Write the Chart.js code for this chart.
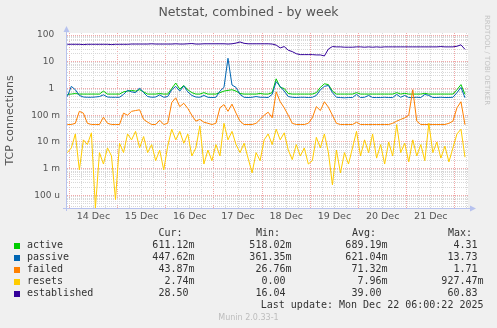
<!DOCTYPE html>
<html>
<head>
<meta charset="utf-8">
<title>Netstat, combined - by week</title>
<script src="https://cdn.jsdelivr.net/npm/chart.js@4.4.1/dist/chart.umd.min.js"></script>
<style>
    html, body { margin: 0; padding: 0; background: #f0f0f0; }
    canvas { display: block; }
</style>
</head>
<body>
<canvas id="netstatChart" width="497" height="328"></canvas>
<script>
        // Samples every 2 hours, hours counted from 14 Dec 00:00
        const sampleStart = -1;
        const sampleStep = 2;

        const dayLabels = ['14 Dec', '15 Dec', '16 Dec', '17 Dec', '18 Dec', '19 Dec', '20 Dec', '21 Dec'];

        const decadeValues = [100, 10, 1, 0.1, 0.01, 0.001, 0.0001];
        const decadeLabels = ['100  ', '10  ', '1  ', '100 m', '10 m', '1 m', '100 u'];

        const active = [
            0.6,
            0.62, 0.65, 0.62, 0.62, 0.62, 0.62, 0.62, 0.62, 0.8, 0.62, 0.62, 0.62,
            0.62, 0.75, 0.8, 0.85, 0.8, 0.9, 0.75, 0.62, 0.62, 0.62, 0.65, 0.62,
            0.62, 1.0, 1.6, 0.95, 1.3, 0.9, 0.7, 0.62, 0.62, 0.7, 0.62, 0.62,
            0.62, 0.7, 0.8, 0.85, 0.9, 0.8, 0.65, 0.62, 0.62, 0.62, 0.62, 0.65,
            0.62, 0.62, 0.7, 2.3, 1.1, 1.0, 0.65, 0.62, 0.62, 0.62, 0.62, 0.62,
            0.62, 0.7, 1.1, 1.5, 1.4, 0.8, 0.62, 0.62, 0.62, 0.62, 0.62, 0.7,
            0.62, 0.62, 0.62, 0.62, 0.62, 0.62, 0.62, 0.62, 0.62, 0.7, 0.62, 0.66,
            0.62, 0.62, 0.62, 0.62, 0.66, 0.62, 0.62, 0.62, 0.62, 0.62, 0.62, 0.62,
            0.9, 1.4, 0.61
        ];
        const passive = [
            0.5,
            1.2, 0.9, 0.55, 0.48, 0.47, 0.47, 0.48, 0.5, 0.58, 0.48, 0.47, 0.47,
            0.47, 0.6, 0.85, 0.75, 0.7, 1.05, 0.7, 0.5, 0.47, 0.48, 0.58, 0.47,
            0.5, 0.9, 1.2, 0.8, 1.25, 0.75, 0.55, 0.48, 0.47, 0.55, 0.47, 0.46,
            0.47, 0.8, 1.1, 13.5, 1.35, 1.1, 0.6, 0.47, 0.46, 0.47, 0.5, 0.47,
            0.47, 0.46, 0.6, 1.8, 1.2, 0.8, 0.5, 0.47, 0.46, 0.47, 0.47, 0.46,
            0.47, 0.55, 0.9, 1.2, 1.3, 0.7, 0.47, 0.46, 0.45, 0.46, 0.46, 0.6,
            0.46, 0.47, 0.55, 0.46, 0.46, 0.46, 0.47, 0.46, 0.46, 0.6, 0.47, 0.55,
            0.46, 0.46, 0.47, 0.46, 0.6, 0.55, 0.46, 0.46, 0.47, 0.46, 0.46, 0.47,
            0.7, 1.1, 0.45
        ];
        const failed = [
            0.045,
            0.045, 0.05, 0.14, 0.12, 0.05, 0.045, 0.045, 0.045, 0.085, 0.05, 0.045, 0.045,
            0.045, 0.12, 0.1, 0.14, 0.15, 0.16, 0.07, 0.055, 0.045, 0.045, 0.065, 0.045,
            0.05, 0.3, 0.45, 0.21, 0.28, 0.18, 0.1, 0.06, 0.07, 0.055, 0.05, 0.045,
            0.05, 0.19, 0.25, 0.14, 0.26, 0.12, 0.06, 0.045, 0.045, 0.045, 0.05, 0.07,
            0.1, 0.13, 0.08, 0.75, 0.32, 0.19, 0.1, 0.05, 0.045, 0.045, 0.045, 0.05,
            0.08, 0.21, 0.15, 0.32, 0.2, 0.1, 0.05, 0.045, 0.045, 0.045, 0.045, 0.055,
            0.045, 0.045, 0.045, 0.045, 0.045, 0.045, 0.045, 0.045, 0.05, 0.06, 0.07, 0.08,
            0.1, 0.9, 0.06, 0.045, 0.045, 0.045, 0.045, 0.045, 0.045, 0.045, 0.05, 0.06,
            0.19, 0.32, 0.044
        ];
        const resets = [
            0.004,
            0.006, 0.02, 0.0009, 0.012, 0.008, 0.022, 0, 0.004, 0.0015, 0.006, 0.003, 0.00007,
            0.009, 0.004, 0.02, 0.012, 0.025, 0.006, 0.016, 0.004, 0.008, 0.002, 0.005, 0.0009,
            0.007, 0.03, 0.012, 0.025, 0.009, 0.02, 0.003, 0.006, 0.04, 0.0015, 0.005, 0.002,
            0.008, 0.003, 0.05, 0.012, 0.025, 0.008, 0.004, 0.009, 0.0025, 0.0007, 0.004, 0.002,
            0.012, 0.02, 0.008, 0.03, 0.012, 0.022, 0.005, 0.0022, 0.008, 0.003, 0.006, 0.0015,
            0.002, 0.015, 0.006, 0.02, 0.004, 0.00025, 0.005, 0.0007, 0.004, 0.0015, 0.006, 0.025,
            0.003, 0.012, 0.004, 0.02, 0.0025, 0.008, 0.0015, 0.01, 0.003, 0.045, 0.004, 0.009,
            0.0018, 0.012, 0.003, 0.008, 0.002, 0.05, 0.004, 0.01, 0.0025, 0.007, 0.0018, 0.006,
            0.02, 0.03, 0.0027
        ];
        const established = [
            45,
            45, 45, 45, 44, 45, 45, 45, 45, 45, 45, 44, 45,
            45, 45, 45, 46, 46, 46, 46, 46, 47, 46, 46, 46,
            46, 46, 47, 46, 46, 47, 48, 46, 46, 47, 47, 47,
            47, 47, 47, 46, 47, 50, 55, 49, 47, 47, 47, 47,
            47, 47, 46, 42, 33, 37, 27, 24, 20, 18.5, 18.5, 18.5,
            18.5, 18, 18, 16.5, 30, 37, 36, 36, 35, 35, 35, 36,
            36, 35, 36, 35, 36, 35, 36, 36, 36, 36, 36, 36,
            36, 36, 36, 36, 36, 36, 36, 36, 37, 36, 36, 36,
            38, 43, 29
        ];

        // Legend table (Cur / Min / Avg / Max)
        const seriesNames = ['active', 'passive', 'failed', 'resets', 'established'];
        const seriesColors = ['#00cc00', '#0066b3', '#ff8000', '#ffcc00', '#330099'];
        const curValues = ['611.12m', '447.62m', '43.87m', '2.74m', '28.50'];
        const minValues = ['518.02m', '361.35m', '26.76m', '0.00', '16.04'];
        const avgValues = ['689.19m', '621.04m', '71.32m', '7.96m', '39.00'];
        const maxValues = ['4.31', '13.73', '1.71', '927.47m', '60.83'];

        const yMin = 3.4e-5;
        const yMax = 119;
        const minorGrid = '#d8d8d8';
        const majorGrid = '#f2a8a8';
        const axisColor = '#b7c2ee';

        // zero can't sit on a log axis, so it goes to the floor of the plot
        function toPoints(values) {
            return values.map((v, i) => ({ x: sampleStart + i * sampleStep, y: v > 0 ? v : yMin }));
        }

        function decadeIndex(value) {
            return decadeValues.findIndex(d => Math.abs(d - value) / d < 1e-6);
        }

        // white plot area, axes with arrows, title and legend table
        const muninFrame = {
            id: 'muninFrame',
            beforeDraw(chart) {
                const { ctx, chartArea: a } = chart;
                ctx.save();
                ctx.fillStyle = '#ffffff';
                ctx.fillRect(a.left, a.top, a.right - a.left, a.bottom - a.top);
                ctx.restore();
            },
            afterDraw(chart) {
                const { ctx, chartArea: a } = chart;
                ctx.save();

                // axes
                ctx.strokeStyle = axisColor;
                ctx.fillStyle = axisColor;
                ctx.lineWidth = 1;
                ctx.beginPath();
                ctx.moveTo(a.left - 0.5, a.bottom + 3);
                ctx.lineTo(a.left - 0.5, a.top - 2);
                ctx.moveTo(a.left - 4, a.bottom + 0.5);
                ctx.lineTo(a.right + 3, a.bottom + 0.5);
                ctx.stroke();
                ctx.beginPath();
                ctx.moveTo(a.left - 0.5, a.top - 7);
                ctx.lineTo(a.left - 3.5, a.top - 1);
                ctx.lineTo(a.left + 2.5, a.top - 1);
                ctx.closePath();
                ctx.fill();
                ctx.beginPath();
                ctx.moveTo(a.right + 8, a.bottom + 0.5);
                ctx.lineTo(a.right + 2, a.bottom - 2.5);
                ctx.lineTo(a.right + 2, a.bottom + 3.5);
                ctx.closePath();
                ctx.fill();

                // title
                ctx.fillStyle = '#555555';
                ctx.font = '12.5px "DejaVu Sans"';
                ctx.textAlign = 'center';
                ctx.textBaseline = 'middle';
                ctx.fillText('Netstat, combined - by week', 248.5, 13);

                // vertical tool credit
                ctx.save();
                ctx.translate(487, 15);
                ctx.rotate(Math.PI / 2);
                ctx.fillStyle = '#c4c4c4';
                ctx.font = '7px "DejaVu Sans"';
                ctx.textAlign = 'left';
                ctx.fillText('RRDTOOL / TOBI OETIKER', 0, 0);
                ctx.restore();

                // legend table
                ctx.font = '10px "DejaVu Sans Mono"';
                ctx.fillStyle = '#333333';
                ctx.textAlign = 'left';
                const headerY = 233.5;
                ctx.fillText('Cur:', 158.5, headerY);
                ctx.fillText('Min:', 256, headerY);
                ctx.fillText('Avg:', 352, headerY);
                ctx.fillText('Max:', 448, headerY);

                const columns = [curValues, minValues, avgValues, maxValues];
                const columnRight = [194.5, 291.5, 387.5, 483.5];
                seriesNames.forEach((name, r) => {
                    const y = 245.7 + r * 12;
                    ctx.fillStyle = seriesColors[r];
                    ctx.fillRect(14, Math.round(y) - 3, 6, 6);
                    ctx.fillStyle = '#333333';
                    ctx.textAlign = 'left';
                    ctx.fillText(name, 27, y);
                    ctx.textAlign = 'right';
                    columns.forEach((col, c) => {
                        const s = col[r].endsWith('m') ? col[r] : col[r] + ' ';
                        ctx.fillText(s, columnRight[c], y);
                    });
                });
                ctx.textAlign = 'right';
                ctx.fillText('Last update: Mon Dec 22 06:00:22 2025', 483.5, 305.7);

                ctx.fillStyle = '#bdbdbd';
                ctx.font = '8px "DejaVu Sans"';
                ctx.textAlign = 'center';
                ctx.fillText('Munin 2.0.33-1', 248.5, 317.5);
                ctx.restore();
            }
        };

        function lineSet(label, values, color, order) {
            return {
                label: label,
                data: toPoints(values),
                borderColor: color,
                backgroundColor: color,
                borderWidth: 1,
                pointRadius: 0,
                tension: 0,
                fill: false,
                order: order
            };
        }

        const netstatCtx = document.getElementById('netstatChart').getContext('2d');
        new Chart(netstatCtx, {
            type: 'line',
            data: {
                datasets: [
                    lineSet('active', active, seriesColors[0], 5),
                    lineSet('passive', passive, seriesColors[1], 4),
                    lineSet('failed', failed, seriesColors[2], 3),
                    lineSet('resets', resets, seriesColors[3], 2),
                    lineSet('established', established, seriesColors[4], 1)
                ]
            },
            plugins: [muninFrame],
            options: {
                responsive: false,
                animation: false,
                devicePixelRatio: 1,
                layout: {
                    padding: { left: 0, top: 33, right: 29, bottom: 100 }
                },
                plugins: {
                    legend: { display: false },
                    tooltip: { enabled: false }
                },
                scales: {
                    x: {
                        type: 'linear',
                        min: -1.15,
                        max: 198.5,
                        afterFit: scale => { scale.height = 20; },
                        afterBuildTicks: scale => {
                            const ticks = [];
                            for (let h = 0; h <= 198; h += 6) ticks.push({ value: h });
                            scale.ticks = ticks;
                        },
                        grid: {
                            drawTicks: false,
                            color: ctx => (ctx.tick && ctx.tick.value % 24 === 0) ? majorGrid : minorGrid
                        },
                        border: { display: false, dash: [1, 1] },
                        ticks: {
                            autoSkip: false,
                            maxRotation: 0,
                            padding: 3,
                            color: '#555555',
                            font: { family: 'DejaVu Sans', size: 9.5 },
                            callback: function(value) {
                                return value % 24 === 12 ? dayLabels[(value - 12) / 24] : '';
                            }
                        }
                    },
                    y: {
                        type: 'logarithmic',
                        min: yMin,
                        max: yMax,
                        afterFit: scale => { scale.width = 67; },
                        afterBuildTicks: scale => {
                            const ticks = [];
                            for (let e = -5; e <= 2; e++) {
                                for (let k = 1; k <= 9; k++) {
                                    const v = parseFloat((k * Math.pow(10, e)).toPrecision(3));
                                    if (v >= yMin && v <= yMax) ticks.push({ value: v });
                                }
                            }
                            scale.ticks = ticks;
                        },
                        grid: {
                            drawTicks: false,
                            color: ctx => (ctx.tick && decadeIndex(ctx.tick.value) >= 0) ? majorGrid : minorGrid
                        },
                        border: { display: false, dash: [1, 1] },
                        title: {
                            display: true,
                            text: 'TCP connections',
                            color: '#555555',
                            font: { family: 'DejaVu Sans', size: 11 },
                            padding: { top: 4, bottom: 0 }
                        },
                        ticks: {
                            autoSkip: false,
                            padding: 7,
                            color: '#555555',
                            font: { family: 'DejaVu Sans', size: 9 },
                            callback: function(value) {
                                const idx = decadeIndex(value);
                                return idx >= 0 ? decadeLabels[idx] : '';
                            }
                        }
                    }
                }
            }
        });
</script>
</body>
</html>
